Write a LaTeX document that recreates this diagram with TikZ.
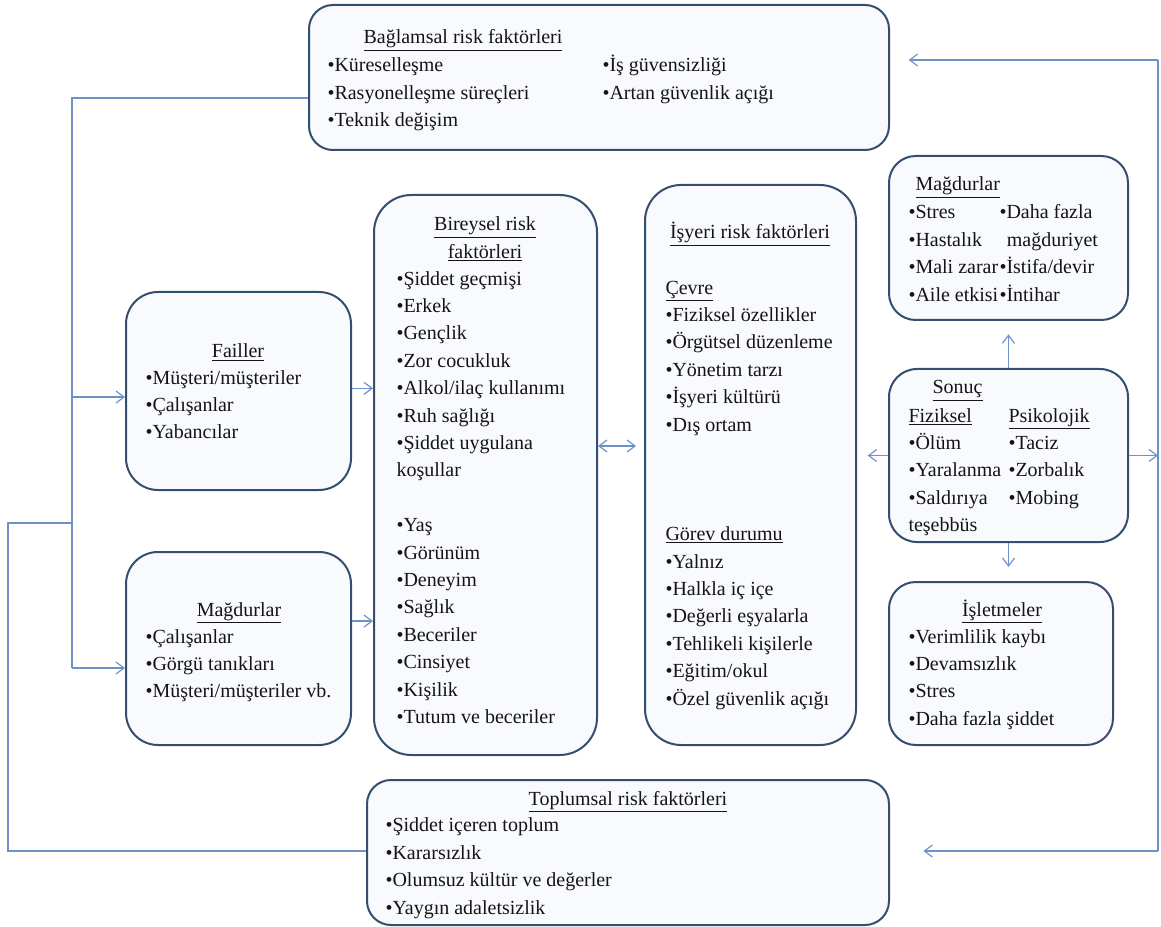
\documentclass[tikz,border=0pt]{standalone}
\usepackage{fontspec}
\setmainfont{Liberation Serif}
\usetikzlibrary{arrows.meta}

\tikzset{every picture/.style={line width=0.75pt}}
\tikzset{
  riskbox/.style={draw={rgb, 255:red, 52; green, 78; blue, 110}, line width=1.5pt, fill={rgb, 255:red, 248; green, 250; blue, 253}, inner sep=0pt},
  link/.style={color={rgb, 255:red, 110; green, 146; blue, 200}, line width=0.9pt},
  tip/.style={-{Straight Barb[length=6pt,width=9pt]}},
  tips/.style={{Straight Barb[length=6pt,width=9pt]}-{Straight Barb[length=6pt,width=9pt]}},
  txt/.style={anchor=base west, inner sep=0pt, align=left, text={rgb, 255:red, 20; green, 20; blue, 20}, font=\fontsize{15pt}{20.55pt}\selectfont},
  ttl/.style={txt, anchor=base, align=center}
}

\begin{document}
\begin{tikzpicture}[x=0.75pt,y=0.75pt,yscale=-1,xscale=1]
    \useasboundingbox (0,0) rectangle (1161,927);

    %Shape: Rounded Rect [id:bag]
    \node[riskbox, minimum width=435pt, minimum height=108.75pt, rounded corners=18pt] (bag) at (599,77.5) {};
    %Shape: Rounded Rect [id:fail]
    \node[riskbox, minimum width=168.75pt, minimum height=148.5pt, rounded corners=24pt] (fail) at (238.5,391) {};
    %Shape: Rounded Rect [id:magL]
    \node[riskbox, minimum width=168.75pt, minimum height=144.75pt, rounded corners=24pt] (magL) at (238.5,648.5) {};
    %Shape: Rounded Rect [id:bir]
    \node[riskbox, minimum width=167.25pt, minimum height=420pt, rounded corners=28pt] (bir) at (485.5,475) {};
    %Shape: Rounded Rect [id:isy]
    \node[riskbox, minimum width=158.25pt, minimum height=420pt, rounded corners=27pt] (isy) at (750.5,465) {};
    %Shape: Rounded Rect [id:magR]
    \node[riskbox, minimum width=179.25pt, minimum height=123pt, rounded corners=20pt] (magR) at (1008.5,238) {};
    %Shape: Rounded Rect [id:son]
    \node[riskbox, minimum width=179.25pt, minimum height=129.75pt, rounded corners=21pt] (son) at (1008.5,455.5) {};
    %Shape: Rounded Rect [id:isl]
    \node[riskbox, minimum width=168pt, minimum height=122.25pt, rounded corners=20pt] (isl) at (1001,663.5) {};
    %Shape: Rounded Rect [id:top]
    \node[riskbox, minimum width=391.5pt, minimum height=108.75pt, rounded corners=18pt] (top) at (628,852.5) {};

    %Straight Lines [id:trunk]
    \coordinate (trTop) at (72,98);
    \coordinate (trMid) at (72,523);
    \coordinate (trBot) at (72,668);
    \coordinate (loopA) at (8,523);
    \coordinate (loopB) at (8,851);
    \draw [link] (bag.west |- trTop) -- (trTop) -- (trBot) ;
    \draw [link, tip] ([yshift=4.5pt]fail.west -| trTop) -- ([yshift=4.5pt]fail.west) ;
    \draw [link, tip] (trBot) -- (trBot -| magL.west) ;
    \draw [link] (top.west |- loopB) -- (loopB) -- (loopA) -- (trMid) ;
    %Straight Lines [id:right]
    \coordinate (rTop) at (1158,60);
    \coordinate (rBot) at (1158,851);
    \draw [link] (rTop) -- (rBot) ;
    \draw [link, tip, shorten >=14pt] (rTop) -- (rTop -| bag.east) ;
    \draw [link, tip, shorten >=25pt] (rBot) -- (rBot -| top.east) ;
    \draw [link, tip] (son.east) -- (son.east -| rTop) ;
    %Straight Lines [id:between]
    \draw [link, tip] ([yshift=-2pt]fail.east) -- ([yshift=-2pt]fail.east -| bir.west) ;
    \draw [link, tip] ([yshift=-20.6pt]magL.east) -- ([yshift=-20.6pt]magL.east -| bir.west) ;
    \draw [link, tips, shorten >=6pt] ([yshift=-21.75pt]bir.east) -- ([yshift=-21.75pt]bir.east -| isy.west) ;
    \draw [link, tip, shorten >=8pt] (son.west) -- (son.west -| isy.east) ;
    \draw [link, tip, shorten >=10pt] (son.north) -- (son.north |- magR.south) ;
    \draw [link, tip, shorten >=10.5pt] (son.south) -- (son.south |- isl.north) ;

    % Text Node (anchored at the baseline of the last line)
    \node[ttl] (bagT) at (463,44) {\underline{Bağlamsal risk faktörleri}};
    % Text Node
    \node[txt] (bagL) at (327,126.8) {•Küreselleşme\\•Rasyonelleşme süreçleri\\•Teknik değişim};
    % Text Node
    \node[txt] (bagR) at (602,99.4) {•İş güvensizliği\\•Artan güvenlik açığı};
    % Text Node
    \node[ttl] (failT) at (238,358) {\underline{Failler}};
    % Text Node
    \node[txt] (failL) at (145,438.8) {•Müşteri/müşteriler\\•Çalışanlar\\•Yabancılar};
    % Text Node
    \node[ttl] (magLT) at (239,616) {\underline{Mağdurlar}};
    % Text Node
    \node[txt] (magLL) at (145,697.8) {•Çalışanlar\\•Görgü tanıkları\\•Müşteri/müşteriler vb.};
    % Text Node
    \node[ttl] (birT) at (485,258.4) {\underline{Bireysel risk}\\\underline{faktörleri}};
    % Text Node
    \node[txt] (birL) at (396,723.4) {•Şiddet geçmişi\\•Erkek\\•Gençlik\\•Zor cocukluk\\•Alkol/ilaç kullanımı\\•Ruh sağlığı\\•Şiddet uygulana\\koşullar\\[20.55pt]•Yaş\\•Görünüm\\•Deneyim\\•Sağlık\\•Beceriler\\•Cinsiyet\\•Kişilik\\•Tutum ve beceriler};
    % Text Node
    \node[ttl] (isyT) at (750,239) {\underline{İşyeri risk faktörleri}};
    % Text Node
    \node[txt] (isyL) at (665,705) {\underline{Çevre}\\•Fiziksel özellikler\\•Örgütsel düzenleme\\•Yönetim tarzı\\•İşyeri kültürü\\•Dış ortam\\[61.65pt]\underline{Görev durumu}\\•Yalnız\\•Halkla iç içe\\•Değerli eşyalarla\\•Tehlikeli kişilerle\\•Eğitim/okul\\•Özel güvenlik açığı};
    % Text Node
    \node[txt] (magRT) at (915,191) {\underline{Mağdurlar}};
    % Text Node
    \node[txt] (magRL) at (908,301.2) {•Stres\\•Hastalık\\•Mali zarar\\•Aile etkisi};
    % Text Node
    \node[txt] (magRR) at (999,301.2) {•Daha fazla\\\hspace{5.5pt}mağduriyet\\•İstifa/devir\\•İntihar};
    % Text Node
    \node[txt] (sonT) at (932,394) {\underline{Sonuç}};
    % Text Node
    \node[txt] (sonL) at (908,531.6) {\underline{Fiziksel}\\•Ölüm\\•Yaralanma\\•Saldırıya\\teşebbüs};
    % Text Node
    \node[txt] (sonR) at (1008,504.2) {\underline{Psikolojik}\\•Taciz\\•Zorbalık\\•Mobing};
    % Text Node
    \node[ttl] (islT) at (1002,616) {\underline{İşletmeler}};
    % Text Node
    \node[txt] (islL) at (908,725.2) {•Verimlilik kaybı\\•Devamsızlık\\•Stres\\•Daha fazla şiddet};
    % Text Node
    \node[ttl] (topT) at (628,805) {\underline{Toplumsal risk faktörleri}};
    % Text Node
    \node[txt] (topL) at (385,914) {•Şiddet içeren toplum\\•Kararsızlık\\•Olumsuz kültür ve değerler\\•Yaygın adaletsizlik};

\end{tikzpicture}
\end{document}
